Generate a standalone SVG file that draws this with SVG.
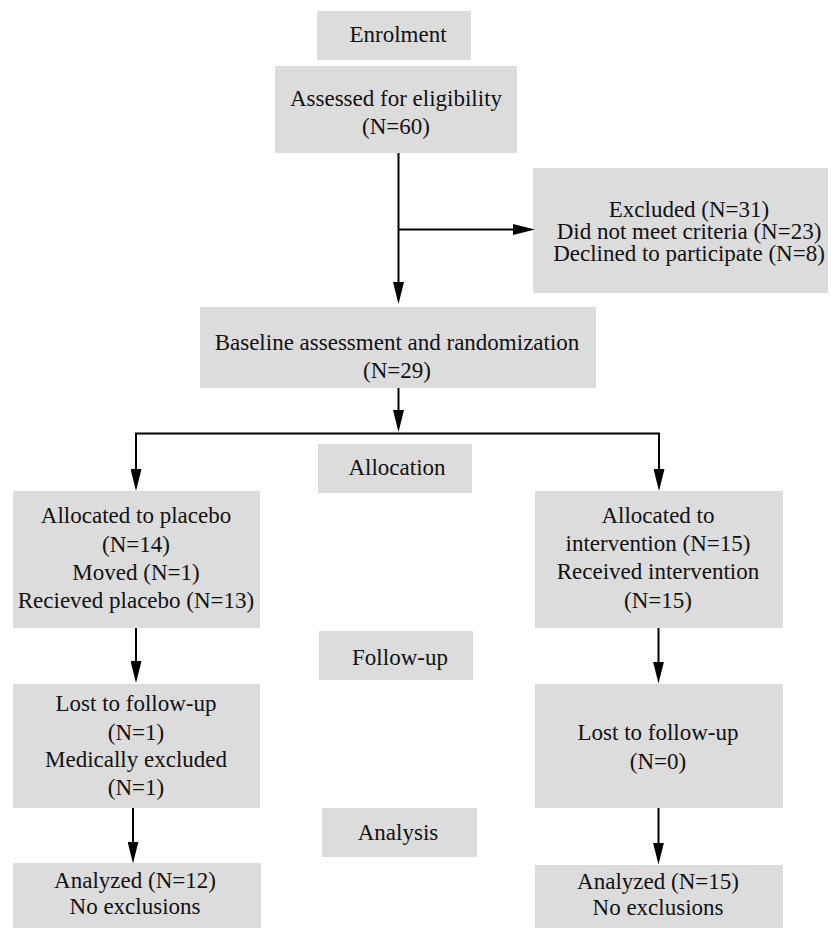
<svg xmlns="http://www.w3.org/2000/svg" width="831" height="928" viewBox="0 0 831 928">
  <style>
    .box { fill: #dcdcdc; }
    .t { font-family: "Liberation Serif", "Times New Roman", serif; font-size: 23px; fill: #111111; text-anchor: middle; }
    .c { stroke: #000000; stroke-width: 2; fill: none; }
  </style>
  <defs>
    <marker id="arr" viewBox="0 0 22 11" refX="1" refY="5.5" markerWidth="22" markerHeight="11" markerUnits="userSpaceOnUse" orient="auto">
      <path d="M0,0 L22,5.5 L0,11 Z" fill="#000000"/>
    </marker>
  </defs>
  <rect width="831" height="928" fill="#ffffff"/>

  <g id="enrolment">
    <rect class="box" x="317" y="11" width="154" height="49"/>
    <text class="t" x="398" y="42">Enrolment</text>
  </g>
  <g id="assessed">
    <rect class="box" x="275" y="66" width="242" height="87"/>
    <text class="t" x="396" y="106">Assessed for eligibility</text>
    <text class="t" x="396" y="133.5">(N=60)</text>
  </g>
  <g id="excluded">
    <rect class="box" x="533" y="168" width="295" height="125"/>
    <text class="t" x="689" y="216.5">Excluded (N=31)</text>
    <text class="t" x="689" y="238.5">Did not meet criteria (N=23)</text>
    <text class="t" x="689" y="260.5">Declined to participate (N=8)</text>
  </g>
  <g id="baseline">
    <rect class="box" x="200" y="307" width="396" height="81"/>
    <text class="t" x="397" y="350">Baseline assessment and randomization</text>
    <text class="t" x="397" y="377.5">(N=29)</text>
  </g>
  <g id="allocation">
    <rect class="box" x="318" y="444" width="154" height="49"/>
    <text class="t" x="397" y="475">Allocation</text>
  </g>
  <g id="alloc-placebo">
    <rect class="box" x="13" y="491" width="247" height="137"/>
    <text class="t" x="136" y="523">Allocated to placebo</text>
    <text class="t" x="136" y="551.5">(N=14)</text>
    <text class="t" x="136" y="580">Moved (N=1)</text>
    <text class="t" x="136" y="608">Recieved placebo (N=13)</text>
  </g>
  <g id="alloc-intervention">
    <rect class="box" x="535" y="491" width="248" height="137"/>
    <text class="t" x="658" y="523">Allocated to</text>
    <text class="t" x="658" y="551">intervention (N=15)</text>
    <text class="t" x="658" y="579">Received intervention</text>
    <text class="t" x="658" y="607.5">(N=15)</text>
  </g>
  <g id="followup">
    <rect class="box" x="319" y="631" width="154" height="49"/>
    <text class="t" x="400" y="665">Follow-up</text>
  </g>
  <g id="lost-placebo">
    <rect class="box" x="13" y="684" width="247" height="124"/>
    <text class="t" x="136" y="711">Lost to follow-up</text>
    <text class="t" x="136" y="739.5">(N=1)</text>
    <text class="t" x="136" y="767">Medically excluded</text>
    <text class="t" x="136" y="795">(N=1)</text>
  </g>
  <g id="lost-intervention">
    <rect class="box" x="535" y="684" width="248" height="124"/>
    <text class="t" x="658" y="740">Lost to follow-up</text>
    <text class="t" x="658" y="768.5">(N=0)</text>
  </g>
  <g id="analysis">
    <rect class="box" x="322" y="808" width="155" height="49"/>
    <text class="t" x="398" y="839.5">Analysis</text>
  </g>
  <g id="analyzed-placebo">
    <rect class="box" x="13" y="863" width="248" height="65"/>
    <text class="t" x="135" y="887.5">Analyzed (N=12)</text>
    <text class="t" x="135" y="913.5">No exclusions</text>
  </g>
  <g id="analyzed-intervention">
    <rect class="box" x="535" y="865" width="248" height="63"/>
    <text class="t" x="658" y="888.5">Analyzed (N=15)</text>
    <text class="t" x="658" y="915">No exclusions</text>
  </g>

  <g id="connectors">
    <path class="c" d="M398.5,153 V283" marker-end="url(#arr)"/>
    <path class="c" d="M398.5,229.5 H514" marker-end="url(#arr)"/>
    <path class="c" d="M398.5,388 V411" marker-end="url(#arr)"/>
    <path class="c" d="M135,433.5 H660"/>
    <path class="c" d="M136,433.5 V470" marker-end="url(#arr)"/>
    <path class="c" d="M659,433.5 V470" marker-end="url(#arr)"/>
    <path class="c" d="M136,628 V662" marker-end="url(#arr)"/>
    <path class="c" d="M658.5,628 V662.5" marker-end="url(#arr)"/>
    <path class="c" d="M133,808 V842.5" marker-end="url(#arr)"/>
    <path class="c" d="M658.5,808 V843.5" marker-end="url(#arr)"/>
  </g>
</svg>
